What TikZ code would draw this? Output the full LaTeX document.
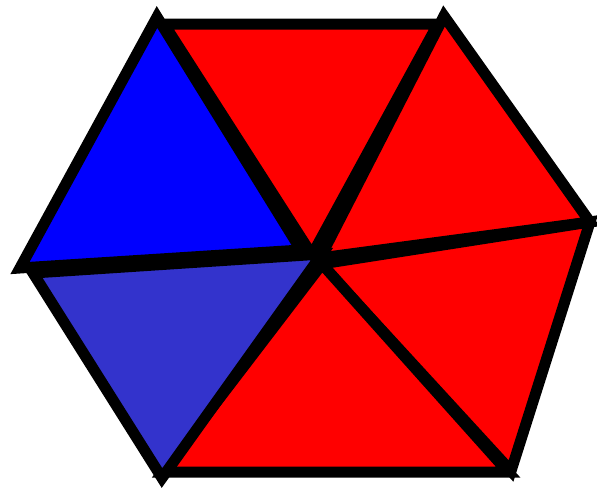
\documentclass[tikz,border=0pt]{standalone}
\definecolor{hexRed}{HTML}{FF0000}
\definecolor{hexBlue}{HTML}{0000FF}
\definecolor{hexNavy}{HTML}{3333CC}
\begin{document}
\begin{tikzpicture}[x=1pt, y=-1pt,
  wedge/.style={draw=black, line width=11pt, line join=miter, miter limit=10}
]
  \useasboundingbox (0,0) rectangle (597,490);
  % upper left wedge
  \coordinate (a1) at (157,17);
  \coordinate (b1) at (20,268);
  \coordinate (c1) at (301,250);
  % top wedge
  \coordinate (a2) at (164,24);
  \coordinate (b2) at (438,24);
  \coordinate (c2) at (312,255);
  % upper right wedge
  \coordinate (a3) at (444,16);
  \coordinate (b3) at (590,222);
  \coordinate (c3) at (320,258);
  % lower right wedge
  \coordinate (a4) at (590,222);
  \coordinate (b4) at (511,471);
  \coordinate (c4) at (321,264);
  % bottom wedge
  \coordinate (a5) at (508,472);
  \coordinate (b5) at (163,472);
  \coordinate (c5) at (322,264);
  % lower left wedge
  \coordinate (a6) at (162,478);
  \coordinate (b6) at (33,273);
  \coordinate (c6) at (322,254);
  \filldraw[wedge, fill=hexBlue] (a1) -- (b1) -- (c1) -- cycle;
  \filldraw[wedge, fill=hexRed]  (a2) -- (b2) -- (c2) -- cycle;
  \filldraw[wedge, fill=hexRed]  (a3) -- (b3) -- (c3) -- cycle;
  \filldraw[wedge, fill=hexRed]  (a4) -- (b4) -- (c4) -- cycle;
  \filldraw[wedge, fill=hexRed]  (a5) -- (b5) -- (c5) -- cycle;
  \filldraw[wedge, fill=hexNavy] (a6) -- (b6) -- (c6) -- cycle;
\end{tikzpicture}
\end{document}
